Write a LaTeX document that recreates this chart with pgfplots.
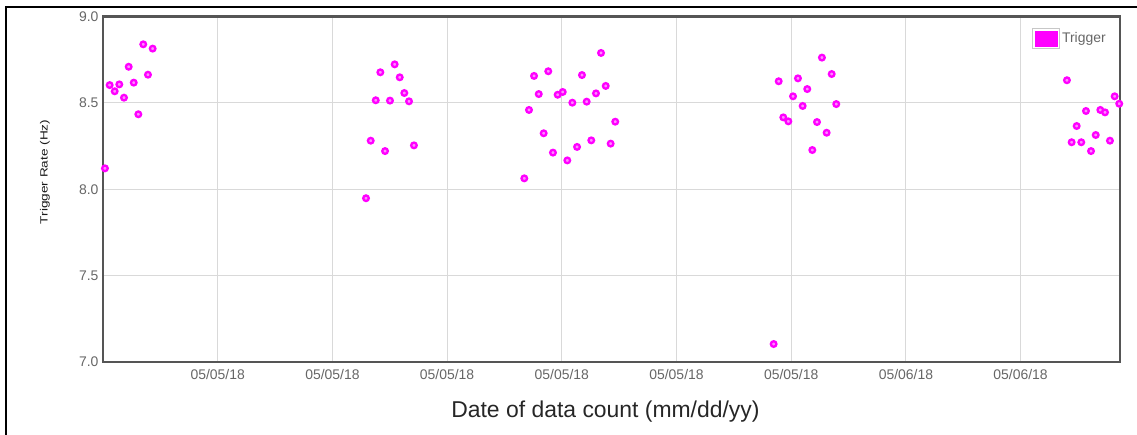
\documentclass[border=0pt]{standalone}
\usepackage{pgfplots}
\pgfplotsset{compat=1.18}
\usepackage{fontspec}
\setmainfont{Liberation Sans}
\definecolor{trig}{HTML}{FF00FF}
\definecolor{ticktext}{HTML}{666666}
\definecolor{frameline}{HTML}{555555}
\definecolor{gridline}{HTML}{D9D9D9}

\begin{document}
\begin{tikzpicture}[x=1bp,y=1bp]
	\useasboundingbox (0,0) rectangle (1137,435);
	% outer frame of the screenshot
	\draw[black, line width=1.8bp] (6,0) -- (6,428) -- (1137,428);

	\begin{axis}[
		at={(103bp,73bp)},
		anchor=south west,
		scale only axis,
		width=1017bp,
		height=345.5bp,
		xmin=0, xmax=8.867,
		ymin=7, ymax=9,
		xtick={1,2,3,4,5,6,7,8},
		xticklabels={05/05/18,05/05/18,05/05/18,05/05/18,05/05/18,05/05/18,05/06/18,05/06/18},
		ytick={7,7.5,8,8.5,9},
		yticklabel style={/pgf/number format/fixed, /pgf/number format/fixed zerofill,
			/pgf/number format/precision=1},
		/pgf/number format/assume math mode=true,
		ticklabel style={font=\fontsize{14}{16}\selectfont, text=ticktext},
		xticklabel style={yshift=-4bp},
		yticklabel style={xshift=-1bp},
		tick style={draw=none},
		grid=major,
		major grid style={color=gridline, line width=0.9bp},
		axis line style={color=frameline, line width=2.8bp},
		xlabel={Date of data count (mm/dd/yy)},
		xlabel style={at={([yshift=-50bp]axis description cs:0.494,0)}, anchor=center,
			font=\fontsize{23}{27}\selectfont, text=black!85},
		ylabel={\scalebox{1.3}[1]{Trigger Rate (Hz)}},
		ylabel style={at={([xshift=-58bp]axis description cs:0,0.55)}, anchor=center,
			font=\fontsize{10.5}{12}\selectfont, text=black!90},
		legend style={at={(rel axis cs:0.9135,0.967)}, anchor=north west,
			draw=none, fill=none, inner sep=0pt,
			font=\fontsize{14}{16}\selectfont, text=ticktext},
		legend image code/.code={
			\draw[black!22, line width=0.8bp] (0bp,-10bp) rectangle (27bp,10bp);
			\fill[trig] (2.4bp,-7.6bp) rectangle (24.4bp,7.6bp);
		},
	]

	\addplot[
		only marks,
		mark=*,
		mark size=2.8bp,
		mark options={draw=trig, fill=trig!45!white, line width=2.3bp},
	] coordinates {
		% first run
		(0.017,8.121) (0.058,8.603) (0.102,8.567) (0.142,8.607) (0.183,8.530)
		(0.224,8.709) (0.268,8.617) (0.308,8.434) (0.351,8.839) (0.392,8.663)
		(0.433,8.814)
		% second run
		(2.293,7.948) (2.334,8.281) (2.378,8.515) (2.418,8.677) (2.459,8.221)
		(2.502,8.513) (2.543,8.723) (2.587,8.648) (2.627,8.557) (2.668,8.509)
		(2.711,8.254)
		% third run
		(3.673,8.063) (3.714,8.459) (3.758,8.656) (3.799,8.551) (3.842,8.324)
		(3.882,8.683) (3.923,8.212) (3.964,8.547) (4.008,8.563) (4.048,8.167)
		(4.092,8.501) (4.133,8.245) (4.176,8.661) (4.217,8.507) (4.257,8.283)
		(4.298,8.555) (4.342,8.789) (4.383,8.598) (4.426,8.264) (4.466,8.391)
		% fourth run
		(5.847,7.104) (5.891,8.625) (5.931,8.416) (5.975,8.393) (6.016,8.538)
		(6.059,8.642) (6.100,8.482) (6.140,8.580) (6.184,8.227) (6.225,8.389)
		(6.268,8.762) (6.309,8.327) (6.353,8.667) (6.393,8.493)
		% fifth run
		(8.404,8.631) (8.445,8.272) (8.489,8.366) (8.529,8.272) (8.570,8.453)
		(8.614,8.221) (8.655,8.314) (8.695,8.459) (8.736,8.445) (8.779,8.281)
		(8.820,8.538) (8.860,8.495)
	};
	\addlegendentry{Trigger}
	\end{axis}
\end{tikzpicture}
\end{document}
